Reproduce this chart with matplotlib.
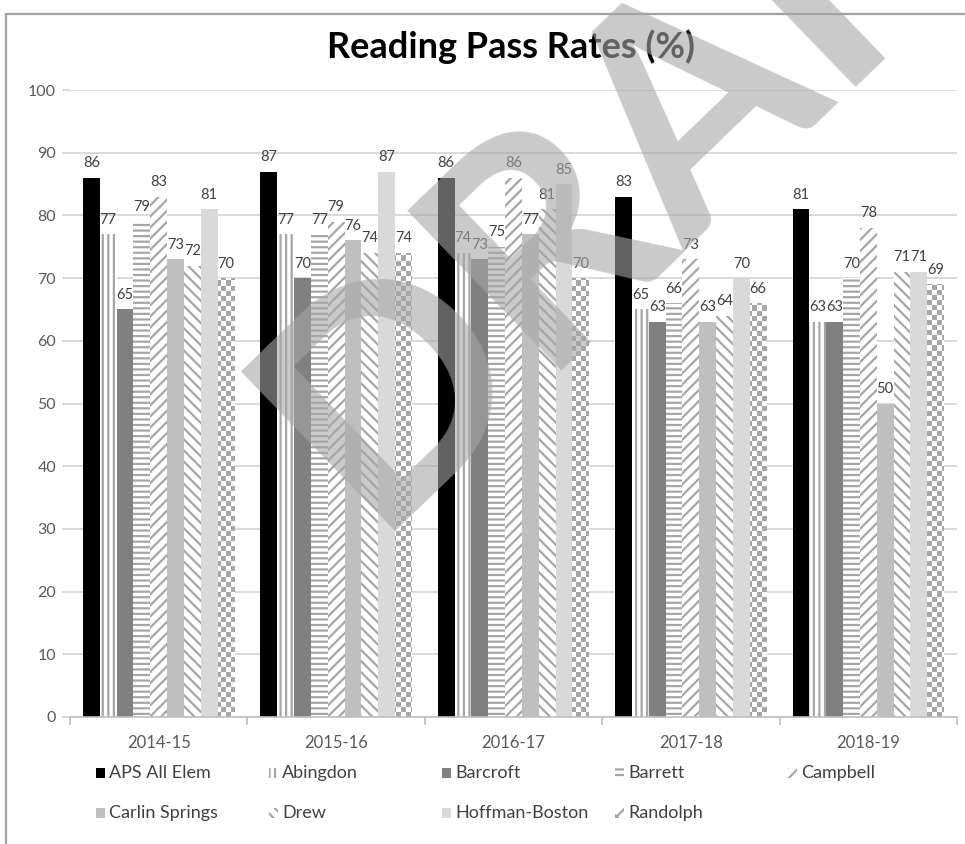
import numpy as np
import matplotlib.pyplot as plt
from matplotlib.colors import ListedColormap
from matplotlib.patches import Rectangle

plt.rcParams['font.family'] = ['Lato', 'DejaVu Sans']
plt.rcParams['hatch.linewidth'] = 1.6

years = ['2014-15', '2015-16', '2016-17', '2017-18', '2018-19']
schools = ['APS All Elem', 'Abingdon', 'Barcroft', 'Barrett', 'Campbell',
           'Carlin Springs', 'Drew', 'Hoffman-Boston', 'Randolph']

aps_all = [86, 87, 86, 83, 81]
abingdon = [77, 77, 74, 65, 63]
barcroft = [65, 70, 73, 63, 63]
barrett = [79, 77, 75, 66, 70]
campbell = [83, 79, 86, 73, 78]
carlin_springs = [73, 76, 77, 63, 50]
drew = [72, 74, 81, 64, 71]
hoffman_boston = [81, 87, 85, 70, 71]
randolph = [70, 74, 70, 66, 69]

series = [aps_all, abingdon, barcroft, barrett, campbell,
          carlin_springs, drew, hoffman_boston, randolph]

# fill colour, hatch colour, hatch pattern ('checker' is drawn as an image)
styles = [
    ('black', 'black', None),
    ('white', '#a6a6a6', '|||'),
    ('#808080', '#808080', None),
    ('white', '#a6a6a6', '---'),
    ('white', '#a6a6a6', '///'),
    ('#bfbfbf', '#bfbfbf', None),
    ('white', '#a6a6a6', '\\\\\\'),
    ('#d9d9d9', '#d9d9d9', None),
    ('white', '#a6a6a6', 'checker'),
]

fig = plt.figure(figsize=(9.65, 8.44), dpi=100)
ax = fig.add_axes([70 / 965, 1 - 717 / 844, 887 / 965, 627 / 844])

# checkerboard texture for Randolph bars
nx, ny = 177, 125
checker = (np.add.outer(np.arange(ny), np.arange(nx)) % 2).astype(float)
checker_cmap = ListedColormap(['white', '#a6a6a6'])

width = 0.0948
x = np.arange(len(years)) + 0.5
for j, (vals, (fc, hc, hatch)) in enumerate(zip(series, styles)):
    pos = x + (j - 4) * width
    bars = ax.bar(pos, vals, width, color=fc, edgecolor=hc, linewidth=0,
                  hatch=hatch if hatch not in (None, 'checker') else None,
                  zorder=2)
    if hatch == 'checker':
        for b in bars:
            im = ax.imshow(checker, cmap=checker_cmap, extent=[0, 5, 0, 100],
                           aspect='auto', interpolation='nearest', zorder=2.5)
            im.set_clip_path(b)
    for px, v in zip(pos, vals):
        ax.text(px, v + 1.2, str(v), ha='center', va='bottom',
                fontsize=10.5, color='#404040', zorder=4)

ax.set_xlim(0, 5)
ax.set_ylim(0, 100)
ax.set_yticks(np.arange(0, 101, 10))
ax.yaxis.grid(True, color='#d9d9d9', linewidth=1.4, zorder=0)
ax.set_axisbelow(True)
ax.tick_params(axis='y', length=6, width=1.4, color='#d9d9d9',
               labelsize=11.5, labelcolor='#595959', pad=4)

ax.set_xticks(np.arange(0, 6))
ax.set_xticklabels([])
ax.set_xticks(x, minor=True)
ax.set_xticklabels(years, minor=True)
ax.tick_params(axis='x', which='major', length=6, width=1.2, color='#bfbfbf')
ax.tick_params(axis='x', which='minor', length=0, labelsize=12,
               labelcolor='#595959', pad=13)

for side in ['left', 'top', 'right']:
    ax.spines[side].set_visible(False)
ax.spines['bottom'].set_color('#bfbfbf')
ax.spines['bottom'].set_linewidth(1.2)

fig.text(511 / 965, 1 - 47 / 844, 'Reading Pass Rates (%)', ha='center',
         va='center', fontsize=26, fontweight='bold', color='black')

# legend laid out in fixed-width columns
for i, (name, (fc, hc, hatch)) in enumerate(zip(schools, styles)):
    col, row = i % 5, i // 5
    lx = (96 + col * 173) / 965
    ly = 1 - (773 + row * 40) / 844
    sq = Rectangle((lx, ly - 5 / 844), 9 / 965, 10 / 844, transform=fig.transFigure,
                   facecolor=fc if hatch != 'checker' else 'white',
                   edgecolor=hc, linewidth=0,
                   hatch='xx' if hatch == 'checker' else hatch)
    fig.add_artist(sq)
    fig.text(lx + 13 / 965, ly, name, ha='left', va='center',
             fontsize=13, color='#404040')

# chart frame
frame = Rectangle((6 / 965, -0.1), 1.2, 1.1 - 14 / 844, transform=fig.transFigure,
                  fill=False, edgecolor='#a0a0a0', linewidth=1.6)
fig.add_artist(frame)

# DRAFT watermark
fig.text(668 / 965, 1 - 122 / 844, 'DRAFT', ha='center', va='center',
         rotation=44, fontsize=220, fontweight='bold', color='#a6a6a6',
         alpha=0.6, zorder=10)

fig.savefig('out.png', dpi=100)
